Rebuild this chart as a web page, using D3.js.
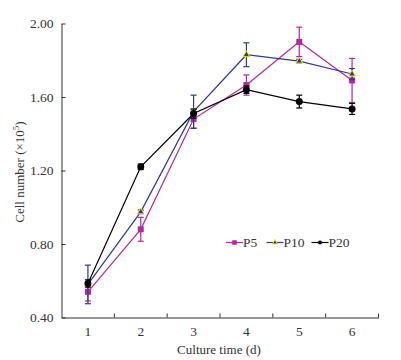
<!DOCTYPE html>
<html>
<head>
<meta charset="utf-8">
<script src="https://cdn.jsdelivr.net/npm/d3@7"></script>
<style>
  body { margin: 0; background: #fff; }
  svg text { font-family: "Liberation Serif", "Times New Roman", serif; fill: #333; }
</style>
</head>
<body>
<script>
// chart data
var days = ["1", "2", "3", "4", "5", "6"];
var p5 = [0.54, 0.88, 1.48, 1.665, 1.90, 1.69];
var p5Err = [0.05, 0.065, 0.05, 0.055, 0.08, 0.12];
var p10 = [0.58, 0.975, 1.52, 1.83, 1.795, 1.725];
var p10Err = [0.105, 0.01, 0.09, 0.065, 0.01, 0.03];
var p20 = [0.585, 1.22, 1.51, 1.64, 1.575, 1.535];
var p20Err = [0.02, 0.015, 0.025, 0.02, 0.035, 0.03];
var yTicks = [0.40, 0.80, 1.20, 1.60, 2.00];

var width = 401, height = 360;
var svg = d3.select("body").append("svg").attr("width", width).attr("height", height);

var x = d3.scaleBand().domain(days).range([61.5, 378.5]);
var y = d3.scaleLinear().domain([0.4, 2.0]).range([317.5, 23.5]);

var series = [
    {name: "P5", values: p5, err: p5Err, color: "#b5279f", shape: "square"},
    {name: "P10", values: p10, err: p10Err, color: "#2b3a93", shape: "triangle"},
    {name: "P20", values: p20, err: p20Err, color: "#000000", shape: "circle"}
];

// axes
var xAxis = svg.append("g").attr("transform", "translate(0,317.5)")
    .call(d3.axisBottom(x).tickSize(0).tickPadding(9));
xAxis.select(".domain").attr("stroke", "#333");
xAxis.selectAll("text").style("font-size", "13.5px");
xAxis.selectAll(".bound")
    .data(days).enter().append("line")
    .attr("class", "bound")
    .attr("x1", function(d) { return x(d) + x.bandwidth(); })
    .attr("x2", function(d) { return x(d) + x.bandwidth(); })
    .attr("y1", 0).attr("y2", -4)
    .attr("stroke", "#333");

var yAxis = svg.append("g").attr("transform", "translate(61.5,0)")
    .call(d3.axisLeft(y).tickValues(yTicks).tickFormat(d3.format(".2f"))
        .tickSizeInner(-4).tickSizeOuter(0).tickPadding(8));
yAxis.select(".domain").attr("stroke", "#333");
yAxis.selectAll(".tick line").attr("stroke", "#333");
yAxis.selectAll("text").style("font-size", "13.5px");

svg.append("text").attr("x", 219).attr("y", 354)
    .attr("text-anchor", "middle").style("font-size", "13px")
    .text("Culture time (d)");

var yt = svg.append("text").attr("transform", "translate(24,172) rotate(-90)")
    .attr("text-anchor", "middle").style("font-size", "13px");
yt.append("tspan").text("Cell number (×10");
yt.append("tspan").attr("dy", -5).style("font-size", "9px").text("5");
yt.append("tspan").attr("dy", 5).text(")");

var line = d3.line()
    .x(function(d, i) { return x(days[i]) + x.bandwidth() / 2; })
    .y(function(d) { return y(d); });

function drawMarker(g, shape, color, cx, cy, s) {
    if (shape === "square") {
        g.append("rect").attr("x", cx - s / 2).attr("y", cy - s / 2)
            .attr("width", s).attr("height", s).attr("fill", color);
    } else if (shape === "triangle") {
        g.append("path")
            .attr("d", d3.symbol(d3.symbolTriangle, s * s * 0.55)())
            .attr("transform", "translate(" + cx + "," + cy + ")")
            .attr("fill", color).attr("stroke", "#ffe600").attr("stroke-width", 1);
    } else {
        g.append("circle").attr("cx", cx).attr("cy", cy).attr("r", s / 2).attr("fill", color);
    }
}

series.forEach(function(s) {
    var g = svg.append("g");
    g.append("path").datum(s.values).attr("d", line)
        .attr("fill", "none").attr("stroke", s.color).attr("stroke-width", 1.2);
    s.values.forEach(function(v, i) {
        var cx = x(days[i]) + x.bandwidth() / 2;
        var top = y(v + s.err[i]), bot = y(v - s.err[i]);
        g.append("line").attr("x1", cx).attr("x2", cx).attr("y1", top).attr("y2", bot)
            .attr("stroke", s.color).attr("stroke-width", 1.2);
        [top, bot].forEach(function(yy) {
            g.append("line").attr("x1", cx - 3).attr("x2", cx + 3).attr("y1", yy).attr("y2", yy)
                .attr("stroke", s.color).attr("stroke-width", 1.2);
        });
    });
    s.values.forEach(function(v, i) {
        var cx = x(days[i]) + x.bandwidth() / 2;
        drawMarker(g, s.shape, s.color, cx, y(v), s.shape === "circle" ? 7 : 6);
    });
});

// legend
var legX = [226, 266.5, 311.5];
series.forEach(function(s, i) {
    var g = svg.append("g");
    g.append("line").attr("x1", legX[i]).attr("x2", legX[i] + 17)
        .attr("y1", 242.5).attr("y2", 242.5).attr("stroke", s.color).attr("stroke-width", 1.2);
    drawMarker(g, s.shape, s.color, legX[i] + 8.5, 242.5, s.shape === "circle" ? 4 : 4.5);
    g.append("text").attr("x", legX[i] + 17).attr("y", 247)
        .style("font-size", "13.5px").text(s.name);
});
</script>
</body>
</html>
